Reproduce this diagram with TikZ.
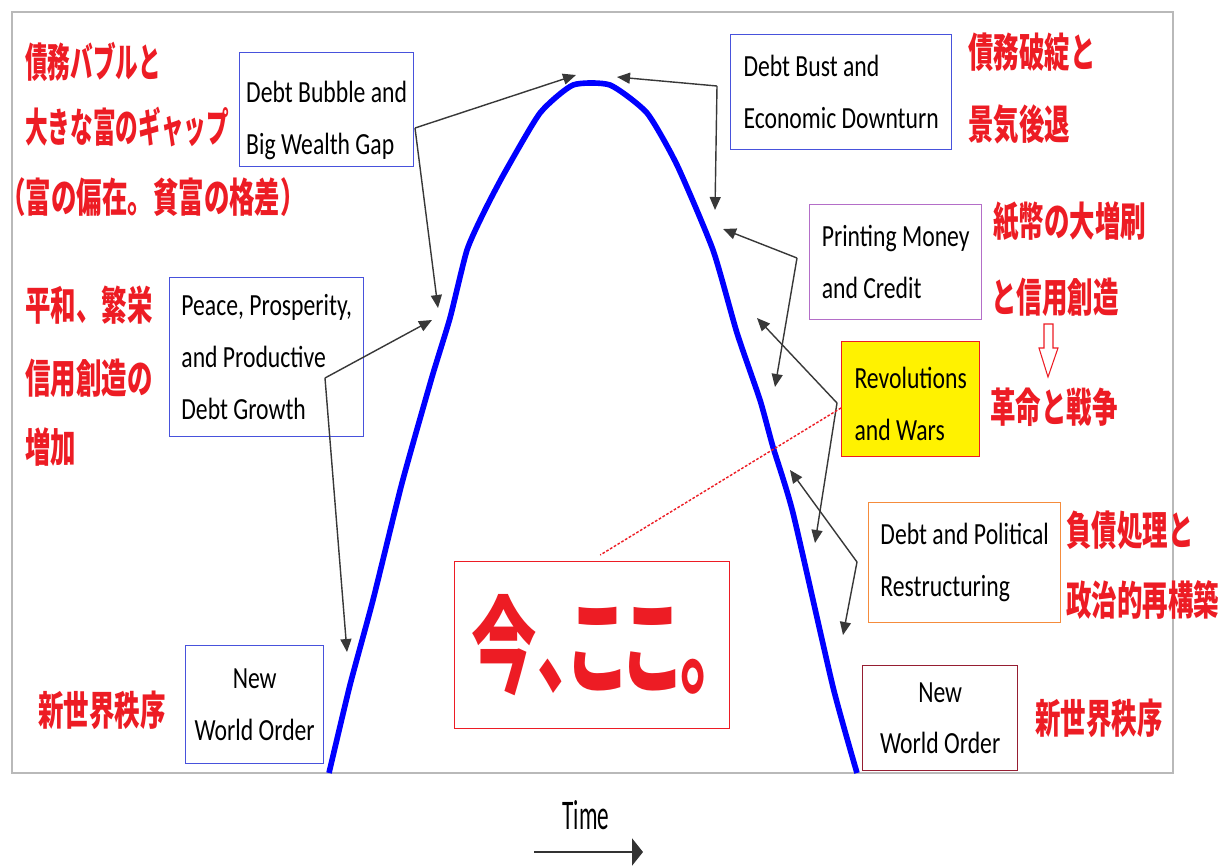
\documentclass[tikz,border=0pt]{standalone}
\usepackage{fontspec}
\usetikzlibrary{arrows.meta}
\newfontfamily\enfont[FakeStretch=0.77]{Carlito}
\newfontfamily\timefont[FakeStretch=0.55]{Carlito}
\newfontfamily\jpfont[FakeStretch=0.63]{Noto Sans CJK JP}
\newfontfamily\jpnarrow[FakeStretch=0.56]{Noto Sans CJK JP}
\newfontfamily\nowfont[FakeStretch=0.62,RawFeature=+palt]{Noto Sans CJK JP}
\definecolor{jpred}{RGB}{237,28,36}
\definecolor{boxblue}{RGB}{72,82,220}
\definecolor{boxpurple}{RGB}{180,110,200}
\definecolor{boxorange}{RGB}{245,140,60}
\definecolor{boxmaroon}{RGB}{150,30,50}
\definecolor{revyellow}{RGB}{255,242,0}

\begin{document}
\begin{tikzpicture}[x=0.02cm, y=-0.02cm,
  txtbox/.style={draw=#1, line width=0.8pt, anchor=north west, align=left, inner sep=0pt,
    font=\enfont\fontsize{17.5}{29.5}\selectfont},
  jplabel/.style={anchor=west, inner sep=0pt, text=jpred, font=\jpfont\bfseries\fontsize{23}{23}\selectfont},
  jpnarrow/.style={jplabel, font=\jpnarrow\bfseries\fontsize{23}{23}\selectfont},
  conn/.style={draw=black!78, line width=0.8pt, -{Triangle[length=0.26cm,width=0.22cm]}}]
\fill[white] (0,0) rectangle (1225,867);
\useasboundingbox (0,0) rectangle (1225,867);
\draw[gray!55, line width=1.2pt] (12,12) rectangle (1173,773);

\draw[blue, line width=3.2pt, line join=round] plot[smooth, tension=0.35] coordinates {(329,773) (350,685) (373,600) (402,483) (432,377) (450,318) (467,250) (485,210) (505,172) (540,113) (573,85) (610,85) (647,113) (677,165) (713,250) (737,333) (760,400) (773,447) (793,513) (833,687) (857,773)};

\node[txtbox=boxblue, minimum width=3.48cm, minimum height=2.28cm] (bubble) at (239,52) {\rule{0pt}{24pt}Debt Bubble and\\Big Wealth Gap};
\node[txtbox=boxblue, minimum width=4.42cm, minimum height=2.30cm] (bust) at (730,34) {Debt Bust and\\Economic Downturn};
\node[txtbox=boxpurple, minimum width=3.44cm, minimum height=2.30cm] (printing) at (809,204) {Printing Money\\and Credit};
\node[txtbox=boxblue, minimum width=3.88cm, minimum height=3.18cm] (peace) at (169,277) {Peace, Prosperity,\\and Productive\\Debt Growth};
\node[txtbox=jpred, fill=revyellow, minimum width=2.76cm, minimum height=2.30cm] (rev) at (841,341) {\rule{0pt}{18pt}Revolutions\\and Wars};
\node[txtbox=boxorange, minimum width=3.84cm, minimum height=2.40cm] (debtpol) at (868,502) {Debt and Political\\Restructuring};
\node[txtbox=boxblue, align=center, minimum width=2.76cm, minimum height=2.36cm] (orderL) at (185,645) {New\\World Order};
\node[txtbox=boxmaroon, align=center, minimum width=3.10cm, minimum height=2.10cm] (orderR) at (862,665) {New\\World Order};
\node[draw=jpred, line width=0.8pt, anchor=north west, minimum width=5.50cm, minimum height=3.34cm, inner sep=0pt,
  text=jpred, font=\nowfont\bfseries\fontsize{60}{60}\selectfont] (now) at (454,561) {今、ここ。};

\node[jpnarrow] (jBubbleA) at (25,62) {債務バブルと};
\node[jpnarrow] (jBubbleB) at (25,127) {大きな富のギャップ};
\node[jplabel] (jBubbleC) at (0,197) {（富の偏在。貧富の格差）};
\node[jplabel] (jPeaceA) at (25,305) {平和、繁栄};
\node[jplabel] (jPeaceB) at (25,378) {信用創造の};
\node[jplabel] (jPeaceC) at (25,447) {増加};
\node[jplabel] (jOrderL) at (38,710) {新世界秩序};
\node[jplabel] (jBustA) at (968,52) {債務破綻と};
\node[jplabel] (jBustB) at (968,124) {景気後退};
\node[jplabel] (jPrintA) at (993,222) {紙幣の大増刷};
\node[jplabel] (jPrintB) at (991,297) {と信用創造};
\node[jplabel] (jRev) at (990,407) {革命と戦争};
\node[jplabel] (jDebtA) at (1066,530) {負債処理と};
\node[jplabel] (jDebtB) at (1066,600) {政治的再構築};
\node[jplabel] (jOrderR) at (1035,718) {新世界秩序};

\draw[jpred, line width=0.6pt, fill=white] (1044,324) -- (1053,324) -- (1053,348) -- (1058,348) -- (1048,377) -- (1039,348) -- (1044,348) -- cycle;

\coordinate (kBubble) at (415,128);
\coordinate (tBubbleA) at (576,75);
\coordinate (tBubbleB) at (438,308);
\coordinate (kBust) at (717,86);
\coordinate (tBustA) at (617,77);
\coordinate (tBustB) at (715,210);
\coordinate (kPrinting) at (797,258);
\coordinate (tPrintingA) at (723,229);
\coordinate (tPrintingB) at (775,387);
\coordinate (kRev) at (837,403);
\coordinate (tRevA) at (757,318);
\coordinate (tRevB) at (815,543);
\coordinate (kDebtpol) at (857,562);
\coordinate (tDebtpolA) at (790,470);
\coordinate (tDebtpolB) at (843,635);
\coordinate (kPeace) at (325,378);
\coordinate (tPeaceA) at (432,320);
\coordinate (tPeaceB) at (347,652);
\draw[conn] (kBubble) -- (tBubbleA);
\draw[conn] (kBubble) -- (tBubbleB);
\draw[conn] (kBust) -- (tBustA);
\draw[conn] (kBust) -- (tBustB);
\draw[conn] (kPrinting) -- (tPrintingA);
\draw[conn] (kPrinting) -- (tPrintingB);
\draw[conn] (kRev) -- (tRevA);
\draw[conn] (kRev) -- (tRevB);
\draw[conn] (kDebtpol) -- (tDebtpolA);
\draw[conn] (kDebtpol) -- (tDebtpolB);
\draw[conn] (kPeace) -- (tPeaceA);
\draw[conn] (kPeace) -- (tPeaceB);

\draw[jpred, line width=0.8pt, dash pattern=on 1.5pt off 1pt] ([yshift=-5]rev.west) -- ([shift={(8,-6)}]now.north);

\node[font=\timefont\fontsize{24}{24}\selectfont] (time) at (586,815) {Time};
\coordinate (timeA) at (534,852);
\coordinate (timeB) at (643,852);
\draw[black!80, line width=1.5pt, -{Triangle[length=0.22cm,width=0.54cm]}] (timeA) -- (timeB);
\end{tikzpicture}
\end{document}
